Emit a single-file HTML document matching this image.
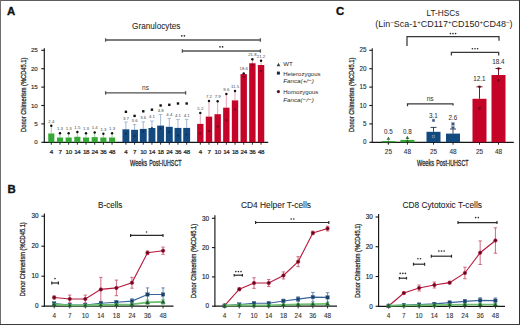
<!DOCTYPE html>
<html><head><meta charset="utf-8"><style>
html,body{margin:0;padding:0;background:#fff;}
body{width:520px;height:325px;overflow:hidden;}
svg{display:block;font-family:"Liberation Sans", sans-serif;}
</style></head><body>
<svg width="520" height="325" viewBox="0 0 520 325" font-family='"Liberation Sans", sans-serif'>
<rect x="0" y="0" width="520" height="325" fill="#fff"/>
<text x="7.00" y="14.80" font-size="11.4" text-anchor="start" fill="#111" font-weight="bold" stroke="#111" stroke-width="0.35" >A</text>
<text x="156.20" y="28.60" font-size="9.4" text-anchor="middle" fill="#2a2a2a" textLength="48.2" lengthAdjust="spacingAndGlyphs" stroke="#2a2a2a" stroke-width="0.08" >Granulocytes</text>
<line x1="44.30" y1="48.20" x2="44.30" y2="142.90" stroke="#151515" stroke-width="1.15"/>
<line x1="41.30" y1="142.30" x2="44.30" y2="142.30" stroke="#151515" stroke-width="1.1"/>
<text x="37.80" y="144.45" font-size="6.2" text-anchor="end" fill="#2a2a2a" stroke="#2a2a2a" stroke-width="0.12" >0</text>
<line x1="41.30" y1="123.90" x2="44.30" y2="123.90" stroke="#151515" stroke-width="1.1"/>
<text x="37.80" y="126.05" font-size="6.2" text-anchor="end" fill="#2a2a2a" stroke="#2a2a2a" stroke-width="0.12" >5</text>
<line x1="41.30" y1="105.50" x2="44.30" y2="105.50" stroke="#151515" stroke-width="1.1"/>
<text x="37.80" y="107.65" font-size="6.2" text-anchor="end" fill="#2a2a2a" stroke="#2a2a2a" stroke-width="0.12" >10</text>
<line x1="41.30" y1="87.10" x2="44.30" y2="87.10" stroke="#151515" stroke-width="1.1"/>
<text x="37.80" y="89.25" font-size="6.2" text-anchor="end" fill="#2a2a2a" stroke="#2a2a2a" stroke-width="0.12" >15</text>
<line x1="41.30" y1="68.70" x2="44.30" y2="68.70" stroke="#151515" stroke-width="1.1"/>
<text x="37.80" y="70.85" font-size="6.2" text-anchor="end" fill="#2a2a2a" stroke="#2a2a2a" stroke-width="0.12" >20</text>
<line x1="41.30" y1="50.30" x2="44.30" y2="50.30" stroke="#151515" stroke-width="1.1"/>
<text x="37.80" y="52.45" font-size="6.2" text-anchor="end" fill="#2a2a2a" stroke="#2a2a2a" stroke-width="0.12" >25</text>
<text transform="translate(25.50,94.80) rotate(-90)" x="0" y="0" font-size="7.9" text-anchor="middle" fill="#2a2a2a" stroke="#2a2a2a" stroke-width="0.3" textLength="74.2" lengthAdjust="spacingAndGlyphs">Donor Chimerism (%CD45.1)</text>
<line x1="43.70" y1="142.30" x2="268.20" y2="142.30" stroke="#151515" stroke-width="1.15"/>
<line x1="51.30" y1="125.70" x2="51.30" y2="133.47" stroke="#8fd08f" stroke-width="0.9"/>
<rect x="48.25" y="133.47" width="6.10" height="8.83" fill="#36a836" />
<circle cx="51.30" cy="125.70" r="1.2" fill="#111"/>
<line x1="51.30" y1="142.30" x2="51.30" y2="144.70" stroke="#151515" stroke-width="0.9"/>
<text x="51.30" y="154.00" font-size="6.2" text-anchor="middle" fill="#222" stroke="#222" stroke-width="0.22" letter-spacing="-0.35">4</text>
<text x="51.30" y="122.50" font-size="4.3" text-anchor="middle" fill="#444" >2.4</text>
<line x1="59.98" y1="133.30" x2="59.98" y2="137.52" stroke="#8fd08f" stroke-width="0.9"/>
<rect x="56.93" y="137.52" width="6.10" height="4.78" fill="#36a836" />
<circle cx="59.98" cy="133.30" r="1.2" fill="#111"/>
<line x1="59.98" y1="142.30" x2="59.98" y2="144.70" stroke="#151515" stroke-width="0.9"/>
<text x="59.98" y="154.00" font-size="6.2" text-anchor="middle" fill="#222" stroke="#222" stroke-width="0.22" letter-spacing="-0.35">7</text>
<text x="59.98" y="130.10" font-size="4.3" text-anchor="middle" fill="#444" >1.3</text>
<line x1="68.66" y1="133.30" x2="68.66" y2="137.52" stroke="#8fd08f" stroke-width="0.9"/>
<rect x="65.61" y="137.52" width="6.10" height="4.78" fill="#36a836" />
<circle cx="68.66" cy="133.30" r="1.2" fill="#111"/>
<line x1="68.66" y1="142.30" x2="68.66" y2="144.70" stroke="#151515" stroke-width="0.9"/>
<text x="68.66" y="154.00" font-size="6.2" text-anchor="middle" fill="#222" stroke="#222" stroke-width="0.22" letter-spacing="-0.35">10</text>
<text x="68.66" y="130.10" font-size="4.3" text-anchor="middle" fill="#444" >1.3</text>
<line x1="77.34" y1="132.00" x2="77.34" y2="136.78" stroke="#8fd08f" stroke-width="0.9"/>
<rect x="74.29" y="136.78" width="6.10" height="5.52" fill="#36a836" />
<circle cx="77.34" cy="132.00" r="1.2" fill="#111"/>
<line x1="77.34" y1="142.30" x2="77.34" y2="144.70" stroke="#151515" stroke-width="0.9"/>
<text x="77.34" y="154.00" font-size="6.2" text-anchor="middle" fill="#222" stroke="#222" stroke-width="0.22" letter-spacing="-0.35">14</text>
<text x="77.34" y="128.80" font-size="4.3" text-anchor="middle" fill="#444" >1.5</text>
<line x1="86.02" y1="133.30" x2="86.02" y2="137.52" stroke="#8fd08f" stroke-width="0.9"/>
<rect x="82.97" y="137.52" width="6.10" height="4.78" fill="#36a836" />
<circle cx="86.02" cy="133.30" r="1.2" fill="#111"/>
<line x1="86.02" y1="142.30" x2="86.02" y2="144.70" stroke="#151515" stroke-width="0.9"/>
<text x="86.02" y="154.00" font-size="6.2" text-anchor="middle" fill="#222" stroke="#222" stroke-width="0.22" letter-spacing="-0.35">18</text>
<text x="86.02" y="130.10" font-size="4.3" text-anchor="middle" fill="#444" >1.3</text>
<line x1="94.70" y1="132.50" x2="94.70" y2="137.15" stroke="#8fd08f" stroke-width="0.9"/>
<rect x="91.65" y="137.15" width="6.10" height="5.15" fill="#36a836" />
<circle cx="94.70" cy="132.50" r="1.2" fill="#111"/>
<line x1="94.70" y1="142.30" x2="94.70" y2="144.70" stroke="#151515" stroke-width="0.9"/>
<text x="94.70" y="154.00" font-size="6.2" text-anchor="middle" fill="#222" stroke="#222" stroke-width="0.22" letter-spacing="-0.35">24</text>
<text x="94.70" y="129.30" font-size="4.3" text-anchor="middle" fill="#444" >1.4</text>
<line x1="103.38" y1="133.70" x2="103.38" y2="137.52" stroke="#8fd08f" stroke-width="0.9"/>
<rect x="100.33" y="137.52" width="6.10" height="4.78" fill="#36a836" />
<circle cx="103.38" cy="133.70" r="1.2" fill="#111"/>
<line x1="103.38" y1="142.30" x2="103.38" y2="144.70" stroke="#151515" stroke-width="0.9"/>
<text x="103.38" y="154.00" font-size="6.2" text-anchor="middle" fill="#222" stroke="#222" stroke-width="0.22" letter-spacing="-0.35">36</text>
<text x="103.38" y="130.50" font-size="4.3" text-anchor="middle" fill="#444" >1.3</text>
<line x1="112.06" y1="133.30" x2="112.06" y2="137.52" stroke="#8fd08f" stroke-width="0.9"/>
<rect x="109.01" y="137.52" width="6.10" height="4.78" fill="#36a836" />
<circle cx="112.06" cy="133.30" r="1.2" fill="#111"/>
<line x1="112.06" y1="142.30" x2="112.06" y2="144.70" stroke="#151515" stroke-width="0.9"/>
<text x="112.06" y="154.00" font-size="6.2" text-anchor="middle" fill="#222" stroke="#222" stroke-width="0.22" letter-spacing="-0.35">48</text>
<text x="112.06" y="130.10" font-size="4.3" text-anchor="middle" fill="#444" >1.3</text>
<line x1="125.90" y1="122.10" x2="125.90" y2="129.31" stroke="#9ab0cc" stroke-width="0.9"/>
<line x1="124.20" y1="122.10" x2="127.60" y2="122.10" stroke="#9ab0cc" stroke-width="0.9"/>
<rect x="122.45" y="129.31" width="6.90" height="12.99" fill="#124a80" />
<rect x="124.70" y="110.60" width="2.40" height="2.40" fill="#111" />
<line x1="125.90" y1="142.30" x2="125.90" y2="144.70" stroke="#151515" stroke-width="0.9"/>
<text x="125.90" y="154.00" font-size="6.2" text-anchor="middle" fill="#222" stroke="#222" stroke-width="0.22" letter-spacing="-0.35">4</text>
<text x="125.90" y="119.50" font-size="4.3" text-anchor="middle" fill="#444" >3.7</text>
<circle cx="125.90" cy="133.50" r="0.9" fill="#0a2a50"/>
<line x1="134.58" y1="124.60" x2="134.58" y2="129.79" stroke="#9ab0cc" stroke-width="0.9"/>
<line x1="132.88" y1="124.60" x2="136.28" y2="124.60" stroke="#9ab0cc" stroke-width="0.9"/>
<rect x="131.13" y="129.79" width="6.90" height="12.51" fill="#124a80" />
<rect x="133.38" y="114.70" width="2.40" height="2.40" fill="#111" />
<line x1="134.58" y1="142.30" x2="134.58" y2="144.70" stroke="#151515" stroke-width="0.9"/>
<text x="134.58" y="154.00" font-size="6.2" text-anchor="middle" fill="#222" stroke="#222" stroke-width="0.22" letter-spacing="-0.35">7</text>
<text x="134.58" y="122.00" font-size="4.3" text-anchor="middle" fill="#444" >3.6</text>
<circle cx="134.58" cy="136.00" r="0.9" fill="#0a2a50"/>
<line x1="143.26" y1="121.90" x2="143.26" y2="128.90" stroke="#9ab0cc" stroke-width="0.9"/>
<line x1="141.56" y1="121.90" x2="144.96" y2="121.90" stroke="#9ab0cc" stroke-width="0.9"/>
<rect x="139.81" y="128.90" width="6.90" height="13.40" fill="#124a80" />
<rect x="142.06" y="110.10" width="2.40" height="2.40" fill="#111" />
<line x1="143.26" y1="142.30" x2="143.26" y2="144.70" stroke="#151515" stroke-width="0.9"/>
<text x="143.26" y="154.00" font-size="6.2" text-anchor="middle" fill="#222" stroke="#222" stroke-width="0.22" letter-spacing="-0.35">10</text>
<text x="143.26" y="119.20" font-size="4.3" text-anchor="middle" fill="#444" >3.6</text>
<circle cx="143.26" cy="131.50" r="0.9" fill="#0a2a50"/>
<line x1="151.94" y1="121.00" x2="151.94" y2="128.02" stroke="#9ab0cc" stroke-width="0.9"/>
<line x1="150.24" y1="121.00" x2="153.64" y2="121.00" stroke="#9ab0cc" stroke-width="0.9"/>
<rect x="148.49" y="128.02" width="6.90" height="14.28" fill="#124a80" />
<rect x="150.74" y="108.50" width="2.40" height="2.40" fill="#111" />
<line x1="151.94" y1="142.30" x2="151.94" y2="144.70" stroke="#151515" stroke-width="0.9"/>
<text x="151.94" y="154.00" font-size="6.2" text-anchor="middle" fill="#222" stroke="#222" stroke-width="0.22" letter-spacing="-0.35">14</text>
<text x="151.94" y="118.40" font-size="4.3" text-anchor="middle" fill="#444" >4.1</text>
<circle cx="151.94" cy="128.00" r="0.9" fill="#0a2a50"/>
<line x1="160.62" y1="114.50" x2="160.62" y2="125.59" stroke="#9ab0cc" stroke-width="0.9"/>
<line x1="158.92" y1="114.50" x2="162.32" y2="114.50" stroke="#9ab0cc" stroke-width="0.9"/>
<rect x="157.17" y="125.59" width="6.90" height="16.71" fill="#124a80" />
<rect x="159.42" y="104.30" width="2.40" height="2.40" fill="#111" />
<line x1="160.62" y1="142.30" x2="160.62" y2="144.70" stroke="#151515" stroke-width="0.9"/>
<text x="160.62" y="154.00" font-size="6.2" text-anchor="middle" fill="#222" stroke="#222" stroke-width="0.22" letter-spacing="-0.35">18</text>
<text x="160.62" y="111.90" font-size="4.3" text-anchor="middle" fill="#444" >4.8</text>
<circle cx="160.62" cy="128.50" r="0.9" fill="#0a2a50"/>
<line x1="169.30" y1="118.40" x2="169.30" y2="126.81" stroke="#9ab0cc" stroke-width="0.9"/>
<line x1="167.60" y1="118.40" x2="171.00" y2="118.40" stroke="#9ab0cc" stroke-width="0.9"/>
<rect x="165.85" y="126.81" width="6.90" height="15.49" fill="#124a80" />
<rect x="168.10" y="103.60" width="2.40" height="2.40" fill="#111" />
<line x1="169.30" y1="142.30" x2="169.30" y2="144.70" stroke="#151515" stroke-width="0.9"/>
<text x="169.30" y="154.00" font-size="6.2" text-anchor="middle" fill="#222" stroke="#222" stroke-width="0.22" letter-spacing="-0.35">24</text>
<text x="169.30" y="116.00" font-size="4.3" text-anchor="middle" fill="#444" >4.4</text>
<circle cx="169.30" cy="132.00" r="0.9" fill="#0a2a50"/>
<line x1="177.98" y1="119.40" x2="177.98" y2="127.91" stroke="#9ab0cc" stroke-width="0.9"/>
<line x1="176.28" y1="119.40" x2="179.68" y2="119.40" stroke="#9ab0cc" stroke-width="0.9"/>
<rect x="174.53" y="127.91" width="6.90" height="14.39" fill="#124a80" />
<rect x="176.78" y="102.30" width="2.40" height="2.40" fill="#111" />
<line x1="177.98" y1="142.30" x2="177.98" y2="144.70" stroke="#151515" stroke-width="0.9"/>
<text x="177.98" y="154.00" font-size="6.2" text-anchor="middle" fill="#222" stroke="#222" stroke-width="0.22" letter-spacing="-0.35">36</text>
<text x="177.98" y="116.70" font-size="4.3" text-anchor="middle" fill="#444" >4.1</text>
<circle cx="177.98" cy="135.50" r="0.9" fill="#0a2a50"/>
<line x1="186.66" y1="119.40" x2="186.66" y2="127.91" stroke="#9ab0cc" stroke-width="0.9"/>
<line x1="184.96" y1="119.40" x2="188.36" y2="119.40" stroke="#9ab0cc" stroke-width="0.9"/>
<rect x="183.21" y="127.91" width="6.90" height="14.39" fill="#124a80" />
<rect x="185.46" y="102.30" width="2.40" height="2.40" fill="#111" />
<line x1="186.66" y1="142.30" x2="186.66" y2="144.70" stroke="#151515" stroke-width="0.9"/>
<text x="186.66" y="154.00" font-size="6.2" text-anchor="middle" fill="#222" stroke="#222" stroke-width="0.22" letter-spacing="-0.35">48</text>
<text x="186.66" y="116.70" font-size="4.3" text-anchor="middle" fill="#444" >4.1</text>
<circle cx="186.66" cy="134.50" r="0.9" fill="#0a2a50"/>
<line x1="200.30" y1="112.90" x2="200.30" y2="123.90" stroke="#e39aac" stroke-width="0.9"/>
<rect x="197.10" y="123.90" width="6.40" height="18.40" fill="#c50329" />
<circle cx="200.30" cy="112.90" r="1.2" fill="#111"/>
<line x1="200.30" y1="142.30" x2="200.30" y2="144.70" stroke="#151515" stroke-width="0.9"/>
<text x="200.30" y="154.00" font-size="6.2" text-anchor="middle" fill="#222" stroke="#222" stroke-width="0.22" letter-spacing="-0.35">4</text>
<text x="200.30" y="109.70" font-size="4.3" text-anchor="middle" fill="#444" >5.2</text>
<circle cx="200.30" cy="133.30" r="1.2" fill="#7a0a1e"/>
<line x1="208.98" y1="101.00" x2="208.98" y2="116.60" stroke="#e39aac" stroke-width="0.9"/>
<rect x="205.78" y="116.60" width="6.40" height="25.70" fill="#c50329" />
<circle cx="208.98" cy="101.00" r="1.2" fill="#111"/>
<line x1="208.98" y1="142.30" x2="208.98" y2="144.70" stroke="#151515" stroke-width="0.9"/>
<text x="208.98" y="154.00" font-size="6.2" text-anchor="middle" fill="#222" stroke="#222" stroke-width="0.22" letter-spacing="-0.35">7</text>
<text x="208.98" y="97.80" font-size="4.3" text-anchor="middle" fill="#444" >7.2</text>
<circle cx="208.98" cy="131.00" r="1.2" fill="#7a0a1e"/>
<line x1="217.66" y1="101.20" x2="217.66" y2="114.20" stroke="#e39aac" stroke-width="0.9"/>
<rect x="214.46" y="114.20" width="6.40" height="28.10" fill="#c50329" />
<circle cx="217.66" cy="101.20" r="1.2" fill="#111"/>
<line x1="217.66" y1="142.30" x2="217.66" y2="144.70" stroke="#151515" stroke-width="0.9"/>
<text x="217.66" y="154.00" font-size="6.2" text-anchor="middle" fill="#222" stroke="#222" stroke-width="0.22" letter-spacing="-0.35">10</text>
<text x="217.66" y="98.00" font-size="4.3" text-anchor="middle" fill="#444" >7.9</text>
<circle cx="217.66" cy="126.60" r="1.2" fill="#7a0a1e"/>
<line x1="226.34" y1="94.00" x2="226.34" y2="107.70" stroke="#e39aac" stroke-width="0.9"/>
<rect x="223.14" y="107.70" width="6.40" height="34.60" fill="#c50329" />
<circle cx="226.34" cy="94.00" r="1.2" fill="#111"/>
<line x1="226.34" y1="142.30" x2="226.34" y2="144.70" stroke="#151515" stroke-width="0.9"/>
<text x="226.34" y="154.00" font-size="6.2" text-anchor="middle" fill="#222" stroke="#222" stroke-width="0.22" letter-spacing="-0.35">14</text>
<text x="226.34" y="90.80" font-size="4.3" text-anchor="middle" fill="#444" >9.6</text>
<circle cx="226.34" cy="120.20" r="1.2" fill="#7a0a1e"/>
<line x1="235.02" y1="91.00" x2="235.02" y2="100.40" stroke="#e39aac" stroke-width="0.9"/>
<rect x="231.82" y="100.40" width="6.40" height="41.90" fill="#c50329" />
<circle cx="235.02" cy="91.00" r="1.2" fill="#111"/>
<line x1="235.02" y1="142.30" x2="235.02" y2="144.70" stroke="#151515" stroke-width="0.9"/>
<text x="235.02" y="154.00" font-size="6.2" text-anchor="middle" fill="#222" stroke="#222" stroke-width="0.22" letter-spacing="-0.35">18</text>
<text x="235.02" y="87.80" font-size="4.3" text-anchor="middle" fill="#444" >11.5</text>
<circle cx="235.02" cy="109.40" r="1.2" fill="#7a0a1e"/>
<line x1="243.70" y1="73.50" x2="243.70" y2="74.10" stroke="#e39aac" stroke-width="0.9"/>
<rect x="240.50" y="74.10" width="6.40" height="68.20" fill="#c50329" />
<circle cx="243.70" cy="73.50" r="1.2" fill="#111"/>
<line x1="243.70" y1="142.30" x2="243.70" y2="144.70" stroke="#151515" stroke-width="0.9"/>
<text x="243.70" y="154.00" font-size="6.2" text-anchor="middle" fill="#222" stroke="#222" stroke-width="0.22" letter-spacing="-0.35">24</text>
<text x="243.70" y="70.30" font-size="4.3" text-anchor="middle" fill="#444" >18.6</text>
<circle cx="243.70" cy="76.90" r="1.2" fill="#7a0a1e"/>
<line x1="252.38" y1="59.30" x2="252.38" y2="63.30" stroke="#e39aac" stroke-width="0.9"/>
<rect x="249.18" y="63.30" width="6.40" height="79.00" fill="#c50329" />
<circle cx="252.38" cy="59.30" r="1.2" fill="#111"/>
<line x1="252.38" y1="142.30" x2="252.38" y2="144.70" stroke="#151515" stroke-width="0.9"/>
<text x="252.38" y="154.00" font-size="6.2" text-anchor="middle" fill="#222" stroke="#222" stroke-width="0.22" letter-spacing="-0.35">36</text>
<text x="252.38" y="56.10" font-size="4.3" text-anchor="middle" fill="#444" >21.8</text>
<circle cx="252.38" cy="64.60" r="1.2" fill="#7a0a1e"/>
<line x1="261.06" y1="60.80" x2="261.06" y2="65.00" stroke="#e39aac" stroke-width="0.9"/>
<rect x="257.86" y="65.00" width="6.40" height="77.30" fill="#c50329" />
<circle cx="261.06" cy="60.80" r="1.2" fill="#111"/>
<line x1="261.06" y1="142.30" x2="261.06" y2="144.70" stroke="#151515" stroke-width="0.9"/>
<text x="261.06" y="154.00" font-size="6.2" text-anchor="middle" fill="#222" stroke="#222" stroke-width="0.22" letter-spacing="-0.35">48</text>
<text x="261.06" y="57.60" font-size="4.3" text-anchor="middle" fill="#444" >21.2</text>
<circle cx="261.06" cy="71.00" r="1.2" fill="#7a0a1e"/>
<text x="130.00" y="165.90" font-size="8.8" text-anchor="start" fill="#2a2a2a" textLength="17.0" lengthAdjust="spacingAndGlyphs" stroke="#2a2a2a" stroke-width="0.32" >Weeks</text>
<text x="149.30" y="165.90" font-size="8.8" text-anchor="start" fill="#2a2a2a" textLength="32.2" lengthAdjust="spacingAndGlyphs" stroke="#2a2a2a" stroke-width="0.32" >Post-IUHSCT</text>
<line x1="105.60" y1="40.00" x2="260.40" y2="40.00" stroke="#505050" stroke-width="1.3"/>
<line x1="105.60" y1="38.30" x2="105.60" y2="41.70" stroke="#505050" stroke-width="1.3"/>
<line x1="260.40" y1="38.30" x2="260.40" y2="41.70" stroke="#505050" stroke-width="1.3"/>
<circle cx="181.80" cy="35.80" r="0.85" fill="#2a2a2a"/>
<circle cx="184.40" cy="35.80" r="0.85" fill="#2a2a2a"/>
<line x1="182.40" y1="51.00" x2="260.40" y2="51.00" stroke="#505050" stroke-width="1.3"/>
<line x1="182.40" y1="49.30" x2="182.40" y2="52.70" stroke="#505050" stroke-width="1.3"/>
<line x1="260.40" y1="49.30" x2="260.40" y2="52.70" stroke="#505050" stroke-width="1.3"/>
<circle cx="220.00" cy="46.80" r="0.85" fill="#2a2a2a"/>
<circle cx="222.60" cy="46.80" r="0.85" fill="#2a2a2a"/>
<line x1="105.60" y1="92.90" x2="185.60" y2="92.90" stroke="#505050" stroke-width="1.3"/>
<line x1="105.60" y1="91.20" x2="105.60" y2="94.60" stroke="#505050" stroke-width="1.3"/>
<line x1="185.60" y1="91.20" x2="185.60" y2="94.60" stroke="#505050" stroke-width="1.3"/>
<text x="145.50" y="89.66" font-size="6.5" text-anchor="middle" fill="#333" >ns</text>
<path d="M276.6,66.3 L278.5,62.7 L280.4,66.3 Z" fill="#2d4a35"/>
<text x="283.20" y="66.20" font-size="6.1" text-anchor="start" fill="#2a2a2a" >WT</text>
<rect x="276.90" y="71.60" width="3.00" height="3.00" fill="#1a2a45" />
<text x="283.20" y="75.60" font-size="6.1" text-anchor="start" fill="#2a2a2a" textLength="37.4" lengthAdjust="spacingAndGlyphs" >Heterozygous</text>
<text x="283.20" y="83.40" font-size="6.1" text-anchor="start" fill="#2a2a2a" font-style="italic" textLength="30.6" lengthAdjust="spacingAndGlyphs" >Fanca(+/−)</text>
<circle cx="278.40" cy="91.60" r="1.55" fill="#4a1020"/>
<text x="283.20" y="93.90" font-size="6.1" text-anchor="start" fill="#2a2a2a" textLength="35.2" lengthAdjust="spacingAndGlyphs" >Homozygous</text>
<text x="283.20" y="101.80" font-size="6.1" text-anchor="start" fill="#2a2a2a" font-style="italic" textLength="30.6" lengthAdjust="spacingAndGlyphs" >Fanca(−/−)</text>
<text x="336.00" y="14.80" font-size="11.4" text-anchor="start" fill="#111" font-weight="bold" stroke="#111" stroke-width="0.35" >C</text>
<text x="443.00" y="15.60" font-size="8.2" text-anchor="middle" fill="#222" textLength="33.0" lengthAdjust="spacingAndGlyphs" >LT-HSCs</text>
<text x="443.90" y="27.10" font-size="8.2" text-anchor="middle" fill="#222" textLength="137.2" lengthAdjust="spacingAndGlyphs" >(Lin<tspan font-size="5.6" dy="-3.2">−</tspan><tspan dy="3.2">Sca-1</tspan><tspan font-size="5.6" dy="-3.2">+</tspan><tspan dy="3.2">CD117</tspan><tspan font-size="5.6" dy="-3.2">+</tspan><tspan dy="3.2">CD150</tspan><tspan font-size="5.6" dy="-3.2">+</tspan><tspan dy="3.2">CD48</tspan><tspan font-size="5.6" dy="-3.2">−</tspan><tspan dy="3.2">)</tspan></text>
<line x1="372.30" y1="48.20" x2="372.30" y2="142.90" stroke="#333" stroke-width="1.15"/>
<line x1="369.30" y1="142.30" x2="372.30" y2="142.30" stroke="#151515" stroke-width="1.1"/>
<text x="366.40" y="144.45" font-size="6.3" text-anchor="end" fill="#2a2a2a" stroke="#2a2a2a" stroke-width="0.12" >0</text>
<line x1="369.30" y1="123.90" x2="372.30" y2="123.90" stroke="#151515" stroke-width="1.1"/>
<text x="366.40" y="126.05" font-size="6.3" text-anchor="end" fill="#2a2a2a" stroke="#2a2a2a" stroke-width="0.12" >5</text>
<line x1="369.30" y1="105.50" x2="372.30" y2="105.50" stroke="#151515" stroke-width="1.1"/>
<text x="366.40" y="107.65" font-size="6.3" text-anchor="end" fill="#2a2a2a" stroke="#2a2a2a" stroke-width="0.12" >10</text>
<line x1="369.30" y1="87.10" x2="372.30" y2="87.10" stroke="#151515" stroke-width="1.1"/>
<text x="366.40" y="89.25" font-size="6.3" text-anchor="end" fill="#2a2a2a" stroke="#2a2a2a" stroke-width="0.12" >15</text>
<line x1="369.30" y1="68.70" x2="372.30" y2="68.70" stroke="#151515" stroke-width="1.1"/>
<text x="366.40" y="70.85" font-size="6.3" text-anchor="end" fill="#2a2a2a" stroke="#2a2a2a" stroke-width="0.12" >20</text>
<line x1="369.30" y1="50.30" x2="372.30" y2="50.30" stroke="#151515" stroke-width="1.1"/>
<text x="366.40" y="52.45" font-size="6.3" text-anchor="end" fill="#2a2a2a" stroke="#2a2a2a" stroke-width="0.12" >25</text>
<text transform="translate(353.60,94.80) rotate(-90)" x="0" y="0" font-size="7.9" text-anchor="middle" fill="#2a2a2a" stroke="#2a2a2a" stroke-width="0.3" textLength="74.2" lengthAdjust="spacingAndGlyphs">Donor Chimerism (%CD45.1)</text>
<line x1="371.70" y1="142.30" x2="513.80" y2="142.30" stroke="#151515" stroke-width="1.15"/>
<rect x="381.40" y="141.00" width="14.00" height="1.30" fill="#36a836" />
<path d="M386.60,139.80 L388.40,136.70 L390.20,139.80 Z" fill="#2a6a2a"/>
<path d="M386.60,143.30 L388.40,140.20 L390.20,143.30 Z" fill="#2a6a2a"/>
<line x1="388.40" y1="142.30" x2="388.40" y2="144.70" stroke="#151515" stroke-width="0.9"/>
<text x="388.40" y="154.20" font-size="6.4" text-anchor="middle" fill="#333" stroke="#333" stroke-width="0.1" >25</text>
<text x="388.40" y="134.00" font-size="6.3" text-anchor="middle" fill="#333" stroke="#333" stroke-width="0.05" >0.5</text>
<rect x="400.40" y="139.90" width="14.00" height="2.40" fill="#36a836" />
<path d="M405.60,138.90 L407.40,135.80 L409.20,138.90 Z" fill="#2a6a2a"/>
<path d="M405.60,142.30 L407.40,139.20 L409.20,142.30 Z" fill="#2a6a2a"/>
<line x1="407.40" y1="142.30" x2="407.40" y2="144.70" stroke="#151515" stroke-width="0.9"/>
<text x="407.40" y="154.20" font-size="6.4" text-anchor="middle" fill="#333" stroke="#333" stroke-width="0.1" >48</text>
<text x="407.40" y="134.00" font-size="6.3" text-anchor="middle" fill="#333" stroke="#333" stroke-width="0.05" >0.8</text>
<rect x="426.50" y="131.80" width="14.00" height="10.50" fill="#124a80" />
<line x1="433.50" y1="127.40" x2="433.50" y2="131.80" stroke="#1c2f4a" stroke-width="0.9"/>
<line x1="430.50" y1="127.40" x2="436.50" y2="127.40" stroke="#1c2f4a" stroke-width="0.9"/>
<rect x="432.20" y="119.10" width="2.60" height="2.60" fill="#3d5575" stroke="#8096b4" stroke-width="0.5"/>
<rect x="432.20" y="135.20" width="2.60" height="2.60" fill="#3d5575" stroke="#8096b4" stroke-width="0.5"/>
<line x1="433.50" y1="142.30" x2="433.50" y2="144.70" stroke="#151515" stroke-width="0.9"/>
<text x="433.50" y="154.20" font-size="6.4" text-anchor="middle" fill="#333" stroke="#333" stroke-width="0.1" >25</text>
<text x="433.50" y="117.70" font-size="6.3" text-anchor="middle" fill="#333" stroke="#333" stroke-width="0.05" >3.1</text>
<rect x="446.00" y="133.60" width="14.00" height="8.70" fill="#124a80" />
<line x1="453.00" y1="129.00" x2="453.00" y2="133.60" stroke="#1c2f4a" stroke-width="0.9"/>
<line x1="450.00" y1="129.00" x2="456.00" y2="129.00" stroke="#1c2f4a" stroke-width="0.9"/>
<rect x="451.70" y="122.70" width="2.60" height="2.60" fill="#3d5575" stroke="#8096b4" stroke-width="0.5"/>
<rect x="451.70" y="126.50" width="2.60" height="2.60" fill="#3d5575" stroke="#8096b4" stroke-width="0.5"/>
<line x1="453.00" y1="142.30" x2="453.00" y2="144.70" stroke="#151515" stroke-width="0.9"/>
<text x="453.00" y="154.20" font-size="6.4" text-anchor="middle" fill="#333" stroke="#333" stroke-width="0.1" >48</text>
<text x="453.00" y="120.20" font-size="6.3" text-anchor="middle" fill="#333" stroke="#333" stroke-width="0.05" >2.6</text>
<rect x="472.50" y="98.80" width="14.00" height="43.50" fill="#c50329" />
<line x1="479.50" y1="86.80" x2="479.50" y2="98.80" stroke="#5a0818" stroke-width="0.9"/>
<line x1="476.50" y1="86.80" x2="482.50" y2="86.80" stroke="#5a0818" stroke-width="0.9"/>
<circle cx="479.50" cy="86.80" r="1.3" fill="#6a0a1e"/>
<circle cx="479.50" cy="108.40" r="1.3" fill="#6a0a1e"/>
<line x1="479.50" y1="142.30" x2="479.50" y2="144.70" stroke="#151515" stroke-width="0.9"/>
<text x="479.50" y="154.20" font-size="6.4" text-anchor="middle" fill="#333" stroke="#333" stroke-width="0.1" >25</text>
<text x="479.50" y="81.40" font-size="6.3" text-anchor="middle" fill="#333" stroke="#333" stroke-width="0.05" >12.1</text>
<rect x="491.50" y="75.00" width="14.00" height="67.30" fill="#c50329" />
<line x1="498.50" y1="68.50" x2="498.50" y2="75.00" stroke="#5a0818" stroke-width="0.9"/>
<line x1="495.50" y1="68.50" x2="501.50" y2="68.50" stroke="#5a0818" stroke-width="0.9"/>
<circle cx="498.50" cy="68.50" r="1.3" fill="#6a0a1e"/>
<circle cx="498.50" cy="80.40" r="1.3" fill="#6a0a1e"/>
<line x1="498.50" y1="142.30" x2="498.50" y2="144.70" stroke="#151515" stroke-width="0.9"/>
<text x="498.50" y="154.20" font-size="6.4" text-anchor="middle" fill="#333" stroke="#333" stroke-width="0.1" >48</text>
<text x="498.50" y="63.70" font-size="6.3" text-anchor="middle" fill="#333" stroke="#333" stroke-width="0.05" >18.4</text>
<text x="417.00" y="165.90" font-size="8.8" text-anchor="start" fill="#2a2a2a" textLength="17.0" lengthAdjust="spacingAndGlyphs" stroke="#2a2a2a" stroke-width="0.32" >Weeks</text>
<text x="436.30" y="165.90" font-size="8.8" text-anchor="start" fill="#2a2a2a" textLength="32.2" lengthAdjust="spacingAndGlyphs" stroke="#2a2a2a" stroke-width="0.32" >Post-IUHSCT</text>
<polyline points="407.0,46.1 407.0,36.6 499.0,36.6 499.0,40.8" fill="none" stroke="#383838" stroke-width="1.25"/>
<circle cx="450.40" cy="33.60" r="0.82" fill="#2a2a2a"/>
<circle cx="453.00" cy="33.60" r="0.82" fill="#2a2a2a"/>
<circle cx="455.60" cy="33.60" r="0.82" fill="#2a2a2a"/>
<polyline points="451.4,55.6 451.4,52.4 498.7,52.4 498.7,55.6" fill="none" stroke="#383838" stroke-width="1.25"/>
<circle cx="472.40" cy="48.80" r="0.82" fill="#2a2a2a"/>
<circle cx="475.00" cy="48.80" r="0.82" fill="#2a2a2a"/>
<circle cx="477.60" cy="48.80" r="0.82" fill="#2a2a2a"/>
<polyline points="407.5,106.3 407.5,103.8 453.0,103.8 453.0,105.4" fill="none" stroke="#383838" stroke-width="1.25"/>
<text x="430.20" y="100.98" font-size="6.6" text-anchor="middle" fill="#333" >ns</text>
<text x="7.50" y="193.00" font-size="11.4" text-anchor="start" fill="#111" font-weight="bold" stroke="#111" stroke-width="0.35" >B</text>
<text x="110.20" y="207.50" font-size="9.2" text-anchor="middle" fill="#222" textLength="24.4" lengthAdjust="spacingAndGlyphs" stroke="#222" stroke-width="0.08" >B-cells</text>
<line x1="44.40" y1="213.40" x2="44.40" y2="306.80" stroke="#151515" stroke-width="1.15"/>
<line x1="41.40" y1="306.20" x2="44.40" y2="306.20" stroke="#151515" stroke-width="1.1"/>
<text x="38.60" y="308.45" font-size="6.4" text-anchor="end" fill="#222" stroke="#222" stroke-width="0.15" >0</text>
<line x1="41.40" y1="276.20" x2="44.40" y2="276.20" stroke="#151515" stroke-width="1.1"/>
<text x="38.60" y="278.45" font-size="6.4" text-anchor="end" fill="#222" stroke="#222" stroke-width="0.15" >10</text>
<line x1="41.40" y1="246.20" x2="44.40" y2="246.20" stroke="#151515" stroke-width="1.1"/>
<text x="38.60" y="248.45" font-size="6.4" text-anchor="end" fill="#222" stroke="#222" stroke-width="0.15" >20</text>
<line x1="41.40" y1="216.20" x2="44.40" y2="216.20" stroke="#151515" stroke-width="1.1"/>
<text x="38.60" y="218.45" font-size="6.4" text-anchor="end" fill="#222" stroke="#222" stroke-width="0.15" >30</text>
<text transform="translate(25.20,259.30) rotate(-90)" x="0" y="0" font-size="7.9" text-anchor="middle" fill="#2a2a2a" stroke="#2a2a2a" stroke-width="0.3" textLength="74" lengthAdjust="spacingAndGlyphs">Donor Chimerism (%CD45.1)</text>
<line x1="43.80" y1="306.20" x2="173.50" y2="306.20" stroke="#151515" stroke-width="1.3"/>
<line x1="54.20" y1="306.20" x2="54.20" y2="308.40" stroke="#151515" stroke-width="0.9"/>
<text x="54.20" y="318.40" font-size="6.4" text-anchor="middle" fill="#333" stroke="#333" stroke-width="0.1" >4</text>
<line x1="69.75" y1="306.20" x2="69.75" y2="308.40" stroke="#151515" stroke-width="0.9"/>
<text x="69.75" y="318.40" font-size="6.4" text-anchor="middle" fill="#333" stroke="#333" stroke-width="0.1" >7</text>
<line x1="85.30" y1="306.20" x2="85.30" y2="308.40" stroke="#151515" stroke-width="0.9"/>
<text x="85.30" y="318.40" font-size="6.4" text-anchor="middle" fill="#333" stroke="#333" stroke-width="0.1" >10</text>
<line x1="100.85" y1="306.20" x2="100.85" y2="308.40" stroke="#151515" stroke-width="0.9"/>
<text x="100.85" y="318.40" font-size="6.4" text-anchor="middle" fill="#333" stroke="#333" stroke-width="0.1" >14</text>
<line x1="116.40" y1="306.20" x2="116.40" y2="308.40" stroke="#151515" stroke-width="0.9"/>
<text x="116.40" y="318.40" font-size="6.4" text-anchor="middle" fill="#333" stroke="#333" stroke-width="0.1" >18</text>
<line x1="131.95" y1="306.20" x2="131.95" y2="308.40" stroke="#151515" stroke-width="0.9"/>
<text x="131.95" y="318.40" font-size="6.4" text-anchor="middle" fill="#333" stroke="#333" stroke-width="0.1" >24</text>
<line x1="147.50" y1="306.20" x2="147.50" y2="308.40" stroke="#151515" stroke-width="0.9"/>
<text x="147.50" y="318.40" font-size="6.4" text-anchor="middle" fill="#333" stroke="#333" stroke-width="0.1" >36</text>
<line x1="163.05" y1="306.20" x2="163.05" y2="308.40" stroke="#151515" stroke-width="0.9"/>
<text x="163.05" y="318.40" font-size="6.4" text-anchor="middle" fill="#333" stroke="#333" stroke-width="0.1" >48</text>
<line x1="54.20" y1="296.00" x2="54.20" y2="299.00" stroke="#c85a74" stroke-width="0.9"/>
<line x1="52.50" y1="296.00" x2="55.90" y2="296.00" stroke="#c85a74" stroke-width="0.9"/>
<line x1="52.50" y1="299.00" x2="55.90" y2="299.00" stroke="#c85a74" stroke-width="0.9"/>
<line x1="69.75" y1="295.10" x2="69.75" y2="302.90" stroke="#c85a74" stroke-width="0.9"/>
<line x1="68.05" y1="295.10" x2="71.45" y2="295.10" stroke="#c85a74" stroke-width="0.9"/>
<line x1="68.05" y1="302.90" x2="71.45" y2="302.90" stroke="#c85a74" stroke-width="0.9"/>
<line x1="85.30" y1="295.10" x2="85.30" y2="302.90" stroke="#c85a74" stroke-width="0.9"/>
<line x1="83.60" y1="295.10" x2="87.00" y2="295.10" stroke="#c85a74" stroke-width="0.9"/>
<line x1="83.60" y1="302.90" x2="87.00" y2="302.90" stroke="#c85a74" stroke-width="0.9"/>
<line x1="100.85" y1="277.40" x2="100.85" y2="301.40" stroke="#c85a74" stroke-width="0.9"/>
<line x1="99.15" y1="277.40" x2="102.55" y2="277.40" stroke="#c85a74" stroke-width="0.9"/>
<line x1="99.15" y1="301.40" x2="102.55" y2="301.40" stroke="#c85a74" stroke-width="0.9"/>
<line x1="116.40" y1="280.10" x2="116.40" y2="295.70" stroke="#c85a74" stroke-width="0.9"/>
<line x1="114.70" y1="280.10" x2="118.10" y2="280.10" stroke="#c85a74" stroke-width="0.9"/>
<line x1="114.70" y1="295.70" x2="118.10" y2="295.70" stroke="#c85a74" stroke-width="0.9"/>
<line x1="131.95" y1="277.40" x2="131.95" y2="288.20" stroke="#c85a74" stroke-width="0.9"/>
<line x1="130.25" y1="277.40" x2="133.65" y2="277.40" stroke="#c85a74" stroke-width="0.9"/>
<line x1="130.25" y1="288.20" x2="133.65" y2="288.20" stroke="#c85a74" stroke-width="0.9"/>
<line x1="147.50" y1="251.00" x2="147.50" y2="254.60" stroke="#c85a74" stroke-width="0.9"/>
<line x1="145.80" y1="251.00" x2="149.20" y2="251.00" stroke="#c85a74" stroke-width="0.9"/>
<line x1="145.80" y1="254.60" x2="149.20" y2="254.60" stroke="#c85a74" stroke-width="0.9"/>
<line x1="163.05" y1="247.10" x2="163.05" y2="254.30" stroke="#c85a74" stroke-width="0.9"/>
<line x1="161.35" y1="247.10" x2="164.75" y2="247.10" stroke="#c85a74" stroke-width="0.9"/>
<line x1="161.35" y1="254.30" x2="164.75" y2="254.30" stroke="#c85a74" stroke-width="0.9"/>
<polyline points="54.20,297.50 69.75,299.00 85.30,299.00 100.85,289.40 116.40,287.90 131.95,282.80 147.50,252.80 163.05,250.70" fill="none" stroke="#b8173d" stroke-width="1.1"/>
<circle cx="54.20" cy="297.50" r="1.75" fill="#5e081c" stroke="#b8173d" stroke-width="0.6"/>
<circle cx="69.75" cy="299.00" r="1.75" fill="#5e081c" stroke="#b8173d" stroke-width="0.6"/>
<circle cx="85.30" cy="299.00" r="1.75" fill="#5e081c" stroke="#b8173d" stroke-width="0.6"/>
<circle cx="100.85" cy="289.40" r="1.75" fill="#5e081c" stroke="#b8173d" stroke-width="0.6"/>
<circle cx="116.40" cy="287.90" r="1.75" fill="#5e081c" stroke="#b8173d" stroke-width="0.6"/>
<circle cx="131.95" cy="282.80" r="1.75" fill="#5e081c" stroke="#b8173d" stroke-width="0.6"/>
<circle cx="147.50" cy="252.80" r="1.75" fill="#5e081c" stroke="#b8173d" stroke-width="0.6"/>
<circle cx="163.05" cy="250.70" r="1.75" fill="#5e081c" stroke="#b8173d" stroke-width="0.6"/>
<line x1="54.20" y1="302.30" x2="54.20" y2="304.70" stroke="#5f80a8" stroke-width="0.9"/>
<line x1="52.50" y1="302.30" x2="55.90" y2="302.30" stroke="#5f80a8" stroke-width="0.9"/>
<line x1="52.50" y1="304.70" x2="55.90" y2="304.70" stroke="#5f80a8" stroke-width="0.9"/>
<line x1="69.75" y1="304.10" x2="69.75" y2="305.90" stroke="#5f80a8" stroke-width="0.9"/>
<line x1="68.05" y1="304.10" x2="71.45" y2="304.10" stroke="#5f80a8" stroke-width="0.9"/>
<line x1="68.05" y1="305.90" x2="71.45" y2="305.90" stroke="#5f80a8" stroke-width="0.9"/>
<line x1="85.30" y1="304.10" x2="85.30" y2="305.90" stroke="#5f80a8" stroke-width="0.9"/>
<line x1="83.60" y1="304.10" x2="87.00" y2="304.10" stroke="#5f80a8" stroke-width="0.9"/>
<line x1="83.60" y1="305.90" x2="87.00" y2="305.90" stroke="#5f80a8" stroke-width="0.9"/>
<line x1="100.85" y1="302.00" x2="100.85" y2="304.40" stroke="#5f80a8" stroke-width="0.9"/>
<line x1="99.15" y1="302.00" x2="102.55" y2="302.00" stroke="#5f80a8" stroke-width="0.9"/>
<line x1="99.15" y1="304.40" x2="102.55" y2="304.40" stroke="#5f80a8" stroke-width="0.9"/>
<line x1="116.40" y1="300.80" x2="116.40" y2="303.80" stroke="#5f80a8" stroke-width="0.9"/>
<line x1="114.70" y1="300.80" x2="118.10" y2="300.80" stroke="#5f80a8" stroke-width="0.9"/>
<line x1="114.70" y1="303.80" x2="118.10" y2="303.80" stroke="#5f80a8" stroke-width="0.9"/>
<line x1="131.95" y1="298.70" x2="131.95" y2="303.50" stroke="#5f80a8" stroke-width="0.9"/>
<line x1="130.25" y1="298.70" x2="133.65" y2="298.70" stroke="#5f80a8" stroke-width="0.9"/>
<line x1="130.25" y1="303.50" x2="133.65" y2="303.50" stroke="#5f80a8" stroke-width="0.9"/>
<line x1="147.50" y1="287.90" x2="147.50" y2="301.10" stroke="#5f80a8" stroke-width="0.9"/>
<line x1="145.80" y1="287.90" x2="149.20" y2="287.90" stroke="#5f80a8" stroke-width="0.9"/>
<line x1="145.80" y1="301.10" x2="149.20" y2="301.10" stroke="#5f80a8" stroke-width="0.9"/>
<line x1="163.05" y1="287.90" x2="163.05" y2="301.10" stroke="#5f80a8" stroke-width="0.9"/>
<line x1="161.35" y1="287.90" x2="164.75" y2="287.90" stroke="#5f80a8" stroke-width="0.9"/>
<line x1="161.35" y1="301.10" x2="164.75" y2="301.10" stroke="#5f80a8" stroke-width="0.9"/>
<polyline points="54.20,303.50 69.75,305.00 85.30,305.00 100.85,303.20 116.40,302.30 131.95,301.10 147.50,294.50 163.05,294.50" fill="none" stroke="#35649a" stroke-width="1.1"/>
<rect x="52.50" y="301.80" width="3.4" height="3.4" fill="#1d3f66" stroke="#35649a" stroke-width="0.4"/>
<rect x="68.05" y="303.30" width="3.4" height="3.4" fill="#1d3f66" stroke="#35649a" stroke-width="0.4"/>
<rect x="83.60" y="303.30" width="3.4" height="3.4" fill="#1d3f66" stroke="#35649a" stroke-width="0.4"/>
<rect x="99.15" y="301.50" width="3.4" height="3.4" fill="#1d3f66" stroke="#35649a" stroke-width="0.4"/>
<rect x="114.70" y="300.60" width="3.4" height="3.4" fill="#1d3f66" stroke="#35649a" stroke-width="0.4"/>
<rect x="130.25" y="299.40" width="3.4" height="3.4" fill="#1d3f66" stroke="#35649a" stroke-width="0.4"/>
<rect x="145.80" y="292.80" width="3.4" height="3.4" fill="#1d3f66" stroke="#35649a" stroke-width="0.4"/>
<rect x="161.35" y="292.80" width="3.4" height="3.4" fill="#1d3f66" stroke="#35649a" stroke-width="0.4"/>
<line x1="54.20" y1="303.50" x2="54.20" y2="305.30" stroke="#7cc47c" stroke-width="0.9"/>
<line x1="52.50" y1="303.50" x2="55.90" y2="303.50" stroke="#7cc47c" stroke-width="0.9"/>
<line x1="52.50" y1="305.30" x2="55.90" y2="305.30" stroke="#7cc47c" stroke-width="0.9"/>
<line x1="69.75" y1="304.70" x2="69.75" y2="305.90" stroke="#7cc47c" stroke-width="0.9"/>
<line x1="68.05" y1="304.70" x2="71.45" y2="304.70" stroke="#7cc47c" stroke-width="0.9"/>
<line x1="68.05" y1="305.90" x2="71.45" y2="305.90" stroke="#7cc47c" stroke-width="0.9"/>
<line x1="85.30" y1="304.70" x2="85.30" y2="305.90" stroke="#7cc47c" stroke-width="0.9"/>
<line x1="83.60" y1="304.70" x2="87.00" y2="304.70" stroke="#7cc47c" stroke-width="0.9"/>
<line x1="83.60" y1="305.90" x2="87.00" y2="305.90" stroke="#7cc47c" stroke-width="0.9"/>
<line x1="100.85" y1="304.10" x2="100.85" y2="305.90" stroke="#7cc47c" stroke-width="0.9"/>
<line x1="99.15" y1="304.10" x2="102.55" y2="304.10" stroke="#7cc47c" stroke-width="0.9"/>
<line x1="99.15" y1="305.90" x2="102.55" y2="305.90" stroke="#7cc47c" stroke-width="0.9"/>
<line x1="116.40" y1="303.80" x2="116.40" y2="305.60" stroke="#7cc47c" stroke-width="0.9"/>
<line x1="114.70" y1="303.80" x2="118.10" y2="303.80" stroke="#7cc47c" stroke-width="0.9"/>
<line x1="114.70" y1="305.60" x2="118.10" y2="305.60" stroke="#7cc47c" stroke-width="0.9"/>
<line x1="131.95" y1="303.20" x2="131.95" y2="305.60" stroke="#7cc47c" stroke-width="0.9"/>
<line x1="130.25" y1="303.20" x2="133.65" y2="303.20" stroke="#7cc47c" stroke-width="0.9"/>
<line x1="130.25" y1="305.60" x2="133.65" y2="305.60" stroke="#7cc47c" stroke-width="0.9"/>
<line x1="147.50" y1="299.90" x2="147.50" y2="304.70" stroke="#7cc47c" stroke-width="0.9"/>
<line x1="145.80" y1="299.90" x2="149.20" y2="299.90" stroke="#7cc47c" stroke-width="0.9"/>
<line x1="145.80" y1="304.70" x2="149.20" y2="304.70" stroke="#7cc47c" stroke-width="0.9"/>
<line x1="163.05" y1="299.45" x2="163.05" y2="304.25" stroke="#7cc47c" stroke-width="0.9"/>
<line x1="161.35" y1="299.45" x2="164.75" y2="299.45" stroke="#7cc47c" stroke-width="0.9"/>
<line x1="161.35" y1="304.25" x2="164.75" y2="304.25" stroke="#7cc47c" stroke-width="0.9"/>
<polyline points="54.20,304.40 69.75,305.30 85.30,305.30 100.85,305.00 116.40,304.70 131.95,304.40 147.50,302.30 163.05,301.85" fill="none" stroke="#6cbf6c" stroke-width="1.8"/>
<path d="M52.10,306.00 L54.20,302.30 L56.30,306.00 Z" fill="#1d5528" stroke="#2d7a3a" stroke-width="0.5"/>
<path d="M67.65,306.90 L69.75,303.20 L71.85,306.90 Z" fill="#1d5528" stroke="#2d7a3a" stroke-width="0.5"/>
<path d="M83.20,306.90 L85.30,303.20 L87.40,306.90 Z" fill="#1d5528" stroke="#2d7a3a" stroke-width="0.5"/>
<path d="M98.75,306.60 L100.85,302.90 L102.95,306.60 Z" fill="#1d5528" stroke="#2d7a3a" stroke-width="0.5"/>
<path d="M114.30,306.30 L116.40,302.60 L118.50,306.30 Z" fill="#1d5528" stroke="#2d7a3a" stroke-width="0.5"/>
<path d="M129.85,306.00 L131.95,302.30 L134.05,306.00 Z" fill="#1d5528" stroke="#2d7a3a" stroke-width="0.5"/>
<path d="M145.40,303.90 L147.50,300.20 L149.60,303.90 Z" fill="#1d5528" stroke="#2d7a3a" stroke-width="0.5"/>
<path d="M160.95,303.45 L163.05,299.75 L165.15,303.45 Z" fill="#1d5528" stroke="#2d7a3a" stroke-width="0.5"/>
<line x1="130.60" y1="235.40" x2="163.00" y2="235.40" stroke="#2a2a2a" stroke-width="1.2"/>
<line x1="130.60" y1="233.90" x2="130.60" y2="236.90" stroke="#2a2a2a" stroke-width="1.2"/>
<line x1="163.00" y1="233.90" x2="163.00" y2="236.90" stroke="#2a2a2a" stroke-width="1.2"/>
<circle cx="146.60" cy="232.00" r="0.8" fill="#2a2a2a"/>
<line x1="51.80" y1="283.00" x2="58.40" y2="283.00" stroke="#2a2a2a" stroke-width="1.2"/>
<line x1="51.80" y1="281.60" x2="51.80" y2="284.40" stroke="#2a2a2a" stroke-width="1.2"/>
<line x1="58.40" y1="281.60" x2="58.40" y2="284.40" stroke="#2a2a2a" stroke-width="1.2"/>
<circle cx="55.00" cy="278.60" r="0.8" fill="#2a2a2a"/>
<text x="276.00" y="207.50" font-size="9.2" text-anchor="middle" fill="#222" textLength="70.0" lengthAdjust="spacingAndGlyphs" stroke="#222" stroke-width="0.08" >CD4 Helper T-cells</text>
<line x1="214.90" y1="215.30" x2="214.90" y2="306.80" stroke="#151515" stroke-width="1.15"/>
<line x1="211.90" y1="306.20" x2="214.90" y2="306.20" stroke="#151515" stroke-width="1.1"/>
<text x="209.10" y="308.45" font-size="6.4" text-anchor="end" fill="#222" stroke="#222" stroke-width="0.15" >0</text>
<line x1="211.90" y1="276.90" x2="214.90" y2="276.90" stroke="#151515" stroke-width="1.1"/>
<text x="209.10" y="279.15" font-size="6.4" text-anchor="end" fill="#222" stroke="#222" stroke-width="0.15" >10</text>
<line x1="211.90" y1="247.60" x2="214.90" y2="247.60" stroke="#151515" stroke-width="1.1"/>
<text x="209.10" y="249.85" font-size="6.4" text-anchor="end" fill="#222" stroke="#222" stroke-width="0.15" >20</text>
<line x1="211.90" y1="218.30" x2="214.90" y2="218.30" stroke="#151515" stroke-width="1.1"/>
<text x="209.10" y="220.55" font-size="6.4" text-anchor="end" fill="#222" stroke="#222" stroke-width="0.15" >30</text>
<text transform="translate(196.30,260.95) rotate(-90)" x="0" y="0" font-size="7.9" text-anchor="middle" fill="#2a2a2a" stroke="#2a2a2a" stroke-width="0.3" textLength="74" lengthAdjust="spacingAndGlyphs">Donor Chimerism (%CD45.1)</text>
<line x1="214.30" y1="306.20" x2="337.00" y2="306.20" stroke="#151515" stroke-width="1.3"/>
<line x1="224.60" y1="306.20" x2="224.60" y2="308.40" stroke="#151515" stroke-width="0.9"/>
<text x="224.60" y="318.40" font-size="6.4" text-anchor="middle" fill="#333" stroke="#333" stroke-width="0.1" >4</text>
<line x1="239.31" y1="306.20" x2="239.31" y2="308.40" stroke="#151515" stroke-width="0.9"/>
<text x="239.31" y="318.40" font-size="6.4" text-anchor="middle" fill="#333" stroke="#333" stroke-width="0.1" >7</text>
<line x1="254.02" y1="306.20" x2="254.02" y2="308.40" stroke="#151515" stroke-width="0.9"/>
<text x="254.02" y="318.40" font-size="6.4" text-anchor="middle" fill="#333" stroke="#333" stroke-width="0.1" >10</text>
<line x1="268.73" y1="306.20" x2="268.73" y2="308.40" stroke="#151515" stroke-width="0.9"/>
<text x="268.73" y="318.40" font-size="6.4" text-anchor="middle" fill="#333" stroke="#333" stroke-width="0.1" >14</text>
<line x1="283.44" y1="306.20" x2="283.44" y2="308.40" stroke="#151515" stroke-width="0.9"/>
<text x="283.44" y="318.40" font-size="6.4" text-anchor="middle" fill="#333" stroke="#333" stroke-width="0.1" >18</text>
<line x1="298.15" y1="306.20" x2="298.15" y2="308.40" stroke="#151515" stroke-width="0.9"/>
<text x="298.15" y="318.40" font-size="6.4" text-anchor="middle" fill="#333" stroke="#333" stroke-width="0.1" >24</text>
<line x1="312.86" y1="306.20" x2="312.86" y2="308.40" stroke="#151515" stroke-width="0.9"/>
<text x="312.86" y="318.40" font-size="6.4" text-anchor="middle" fill="#333" stroke="#333" stroke-width="0.1" >36</text>
<line x1="327.57" y1="306.20" x2="327.57" y2="308.40" stroke="#151515" stroke-width="0.9"/>
<text x="327.57" y="318.40" font-size="6.4" text-anchor="middle" fill="#333" stroke="#333" stroke-width="0.1" >48</text>
<line x1="224.60" y1="305.03" x2="224.60" y2="306.20" stroke="#c85a74" stroke-width="0.9"/>
<line x1="222.90" y1="305.03" x2="226.30" y2="305.03" stroke="#c85a74" stroke-width="0.9"/>
<line x1="222.90" y1="306.20" x2="226.30" y2="306.20" stroke="#c85a74" stroke-width="0.9"/>
<line x1="239.31" y1="287.74" x2="239.31" y2="290.67" stroke="#c85a74" stroke-width="0.9"/>
<line x1="237.61" y1="287.74" x2="241.01" y2="287.74" stroke="#c85a74" stroke-width="0.9"/>
<line x1="237.61" y1="290.67" x2="241.01" y2="290.67" stroke="#c85a74" stroke-width="0.9"/>
<line x1="254.02" y1="277.78" x2="254.02" y2="288.33" stroke="#c85a74" stroke-width="0.9"/>
<line x1="252.32" y1="277.78" x2="255.72" y2="277.78" stroke="#c85a74" stroke-width="0.9"/>
<line x1="252.32" y1="288.33" x2="255.72" y2="288.33" stroke="#c85a74" stroke-width="0.9"/>
<line x1="268.73" y1="279.54" x2="268.73" y2="286.57" stroke="#c85a74" stroke-width="0.9"/>
<line x1="267.03" y1="279.54" x2="270.43" y2="279.54" stroke="#c85a74" stroke-width="0.9"/>
<line x1="267.03" y1="286.57" x2="270.43" y2="286.57" stroke="#c85a74" stroke-width="0.9"/>
<line x1="283.44" y1="271.92" x2="283.44" y2="278.95" stroke="#c85a74" stroke-width="0.9"/>
<line x1="281.74" y1="271.92" x2="285.14" y2="271.92" stroke="#c85a74" stroke-width="0.9"/>
<line x1="281.74" y1="278.95" x2="285.14" y2="278.95" stroke="#c85a74" stroke-width="0.9"/>
<line x1="298.15" y1="256.68" x2="298.15" y2="266.64" stroke="#c85a74" stroke-width="0.9"/>
<line x1="296.45" y1="256.68" x2="299.85" y2="256.68" stroke="#c85a74" stroke-width="0.9"/>
<line x1="296.45" y1="266.64" x2="299.85" y2="266.64" stroke="#c85a74" stroke-width="0.9"/>
<line x1="312.86" y1="231.19" x2="312.86" y2="234.71" stroke="#c85a74" stroke-width="0.9"/>
<line x1="311.16" y1="231.19" x2="314.56" y2="231.19" stroke="#c85a74" stroke-width="0.9"/>
<line x1="311.16" y1="234.71" x2="314.56" y2="234.71" stroke="#c85a74" stroke-width="0.9"/>
<line x1="327.57" y1="226.21" x2="327.57" y2="230.90" stroke="#c85a74" stroke-width="0.9"/>
<line x1="325.87" y1="226.21" x2="329.27" y2="226.21" stroke="#c85a74" stroke-width="0.9"/>
<line x1="325.87" y1="230.90" x2="329.27" y2="230.90" stroke="#c85a74" stroke-width="0.9"/>
<polyline points="224.60,305.61 239.31,289.21 254.02,283.05 268.73,283.05 283.44,275.44 298.15,261.66 312.86,232.95 327.57,228.55" fill="none" stroke="#b8173d" stroke-width="1.1"/>
<circle cx="224.60" cy="305.61" r="1.75" fill="#5e081c" stroke="#b8173d" stroke-width="0.6"/>
<circle cx="239.31" cy="289.21" r="1.75" fill="#5e081c" stroke="#b8173d" stroke-width="0.6"/>
<circle cx="254.02" cy="283.05" r="1.75" fill="#5e081c" stroke="#b8173d" stroke-width="0.6"/>
<circle cx="268.73" cy="283.05" r="1.75" fill="#5e081c" stroke="#b8173d" stroke-width="0.6"/>
<circle cx="283.44" cy="275.44" r="1.75" fill="#5e081c" stroke="#b8173d" stroke-width="0.6"/>
<circle cx="298.15" cy="261.66" r="1.75" fill="#5e081c" stroke="#b8173d" stroke-width="0.6"/>
<circle cx="312.86" cy="232.95" r="1.75" fill="#5e081c" stroke="#b8173d" stroke-width="0.6"/>
<circle cx="327.57" cy="228.55" r="1.75" fill="#5e081c" stroke="#b8173d" stroke-width="0.6"/>
<line x1="224.60" y1="305.03" x2="224.60" y2="306.20" stroke="#5f80a8" stroke-width="0.9"/>
<line x1="222.90" y1="305.03" x2="226.30" y2="305.03" stroke="#5f80a8" stroke-width="0.9"/>
<line x1="222.90" y1="306.20" x2="226.30" y2="306.20" stroke="#5f80a8" stroke-width="0.9"/>
<line x1="239.31" y1="303.56" x2="239.31" y2="305.32" stroke="#5f80a8" stroke-width="0.9"/>
<line x1="237.61" y1="303.56" x2="241.01" y2="303.56" stroke="#5f80a8" stroke-width="0.9"/>
<line x1="237.61" y1="305.32" x2="241.01" y2="305.32" stroke="#5f80a8" stroke-width="0.9"/>
<line x1="254.02" y1="302.10" x2="254.02" y2="304.44" stroke="#5f80a8" stroke-width="0.9"/>
<line x1="252.32" y1="302.10" x2="255.72" y2="302.10" stroke="#5f80a8" stroke-width="0.9"/>
<line x1="252.32" y1="304.44" x2="255.72" y2="304.44" stroke="#5f80a8" stroke-width="0.9"/>
<line x1="268.73" y1="302.10" x2="268.73" y2="304.44" stroke="#5f80a8" stroke-width="0.9"/>
<line x1="267.03" y1="302.10" x2="270.43" y2="302.10" stroke="#5f80a8" stroke-width="0.9"/>
<line x1="267.03" y1="304.44" x2="270.43" y2="304.44" stroke="#5f80a8" stroke-width="0.9"/>
<line x1="283.44" y1="299.17" x2="283.44" y2="302.68" stroke="#5f80a8" stroke-width="0.9"/>
<line x1="281.74" y1="299.17" x2="285.14" y2="299.17" stroke="#5f80a8" stroke-width="0.9"/>
<line x1="281.74" y1="302.68" x2="285.14" y2="302.68" stroke="#5f80a8" stroke-width="0.9"/>
<line x1="298.15" y1="296.82" x2="298.15" y2="301.51" stroke="#5f80a8" stroke-width="0.9"/>
<line x1="296.45" y1="296.82" x2="299.85" y2="296.82" stroke="#5f80a8" stroke-width="0.9"/>
<line x1="296.45" y1="301.51" x2="299.85" y2="301.51" stroke="#5f80a8" stroke-width="0.9"/>
<line x1="312.86" y1="292.43" x2="312.86" y2="301.80" stroke="#5f80a8" stroke-width="0.9"/>
<line x1="311.16" y1="292.43" x2="314.56" y2="292.43" stroke="#5f80a8" stroke-width="0.9"/>
<line x1="311.16" y1="301.80" x2="314.56" y2="301.80" stroke="#5f80a8" stroke-width="0.9"/>
<line x1="327.57" y1="292.72" x2="327.57" y2="302.10" stroke="#5f80a8" stroke-width="0.9"/>
<line x1="325.87" y1="292.72" x2="329.27" y2="292.72" stroke="#5f80a8" stroke-width="0.9"/>
<line x1="325.87" y1="302.10" x2="329.27" y2="302.10" stroke="#5f80a8" stroke-width="0.9"/>
<polyline points="224.60,305.61 239.31,304.44 254.02,303.27 268.73,303.27 283.44,300.93 298.15,299.17 312.86,297.12 327.57,297.41" fill="none" stroke="#35649a" stroke-width="1.1"/>
<rect x="222.90" y="303.91" width="3.4" height="3.4" fill="#1d3f66" stroke="#35649a" stroke-width="0.4"/>
<rect x="237.61" y="302.74" width="3.4" height="3.4" fill="#1d3f66" stroke="#35649a" stroke-width="0.4"/>
<rect x="252.32" y="301.57" width="3.4" height="3.4" fill="#1d3f66" stroke="#35649a" stroke-width="0.4"/>
<rect x="267.03" y="301.57" width="3.4" height="3.4" fill="#1d3f66" stroke="#35649a" stroke-width="0.4"/>
<rect x="281.74" y="299.23" width="3.4" height="3.4" fill="#1d3f66" stroke="#35649a" stroke-width="0.4"/>
<rect x="296.45" y="297.47" width="3.4" height="3.4" fill="#1d3f66" stroke="#35649a" stroke-width="0.4"/>
<rect x="311.16" y="295.42" width="3.4" height="3.4" fill="#1d3f66" stroke="#35649a" stroke-width="0.4"/>
<rect x="325.87" y="295.71" width="3.4" height="3.4" fill="#1d3f66" stroke="#35649a" stroke-width="0.4"/>
<line x1="224.60" y1="305.03" x2="224.60" y2="306.20" stroke="#7cc47c" stroke-width="0.9"/>
<line x1="222.90" y1="305.03" x2="226.30" y2="305.03" stroke="#7cc47c" stroke-width="0.9"/>
<line x1="222.90" y1="306.20" x2="226.30" y2="306.20" stroke="#7cc47c" stroke-width="0.9"/>
<line x1="239.31" y1="304.15" x2="239.31" y2="305.91" stroke="#7cc47c" stroke-width="0.9"/>
<line x1="237.61" y1="304.15" x2="241.01" y2="304.15" stroke="#7cc47c" stroke-width="0.9"/>
<line x1="237.61" y1="305.91" x2="241.01" y2="305.91" stroke="#7cc47c" stroke-width="0.9"/>
<line x1="254.02" y1="304.44" x2="254.02" y2="306.20" stroke="#7cc47c" stroke-width="0.9"/>
<line x1="252.32" y1="304.44" x2="255.72" y2="304.44" stroke="#7cc47c" stroke-width="0.9"/>
<line x1="252.32" y1="306.20" x2="255.72" y2="306.20" stroke="#7cc47c" stroke-width="0.9"/>
<line x1="268.73" y1="304.44" x2="268.73" y2="306.20" stroke="#7cc47c" stroke-width="0.9"/>
<line x1="267.03" y1="304.44" x2="270.43" y2="304.44" stroke="#7cc47c" stroke-width="0.9"/>
<line x1="267.03" y1="306.20" x2="270.43" y2="306.20" stroke="#7cc47c" stroke-width="0.9"/>
<line x1="283.44" y1="303.86" x2="283.44" y2="305.61" stroke="#7cc47c" stroke-width="0.9"/>
<line x1="281.74" y1="303.86" x2="285.14" y2="303.86" stroke="#7cc47c" stroke-width="0.9"/>
<line x1="281.74" y1="305.61" x2="285.14" y2="305.61" stroke="#7cc47c" stroke-width="0.9"/>
<line x1="298.15" y1="303.56" x2="298.15" y2="305.32" stroke="#7cc47c" stroke-width="0.9"/>
<line x1="296.45" y1="303.56" x2="299.85" y2="303.56" stroke="#7cc47c" stroke-width="0.9"/>
<line x1="296.45" y1="305.32" x2="299.85" y2="305.32" stroke="#7cc47c" stroke-width="0.9"/>
<line x1="312.86" y1="303.27" x2="312.86" y2="305.03" stroke="#7cc47c" stroke-width="0.9"/>
<line x1="311.16" y1="303.27" x2="314.56" y2="303.27" stroke="#7cc47c" stroke-width="0.9"/>
<line x1="311.16" y1="305.03" x2="314.56" y2="305.03" stroke="#7cc47c" stroke-width="0.9"/>
<line x1="327.57" y1="302.68" x2="327.57" y2="305.03" stroke="#7cc47c" stroke-width="0.9"/>
<line x1="325.87" y1="302.68" x2="329.27" y2="302.68" stroke="#7cc47c" stroke-width="0.9"/>
<line x1="325.87" y1="305.03" x2="329.27" y2="305.03" stroke="#7cc47c" stroke-width="0.9"/>
<polyline points="224.60,305.61 239.31,305.03 254.02,305.32 268.73,305.32 283.44,304.74 298.15,304.44 312.86,304.15 327.57,303.86" fill="none" stroke="#6cbf6c" stroke-width="1.7"/>
<path d="M222.50,307.21 L224.60,303.51 L226.70,307.21 Z" fill="#1d5528" stroke="#2d7a3a" stroke-width="0.5"/>
<path d="M237.21,306.63 L239.31,302.93 L241.41,306.63 Z" fill="#1d5528" stroke="#2d7a3a" stroke-width="0.5"/>
<path d="M251.92,306.92 L254.02,303.22 L256.12,306.92 Z" fill="#1d5528" stroke="#2d7a3a" stroke-width="0.5"/>
<path d="M266.63,306.92 L268.73,303.22 L270.83,306.92 Z" fill="#1d5528" stroke="#2d7a3a" stroke-width="0.5"/>
<path d="M281.34,306.34 L283.44,302.63 L285.54,306.34 Z" fill="#1d5528" stroke="#2d7a3a" stroke-width="0.5"/>
<path d="M296.05,306.04 L298.15,302.34 L300.25,306.04 Z" fill="#1d5528" stroke="#2d7a3a" stroke-width="0.5"/>
<path d="M310.76,305.75 L312.86,302.05 L314.96,305.75 Z" fill="#1d5528" stroke="#2d7a3a" stroke-width="0.5"/>
<path d="M325.47,305.46 L327.57,301.76 L329.67,305.46 Z" fill="#1d5528" stroke="#2d7a3a" stroke-width="0.5"/>
<line x1="255.60" y1="222.50" x2="328.80" y2="222.50" stroke="#2a2a2a" stroke-width="1.2"/>
<line x1="255.60" y1="221.00" x2="255.60" y2="224.00" stroke="#2a2a2a" stroke-width="1.2"/>
<line x1="328.80" y1="221.00" x2="328.80" y2="224.00" stroke="#2a2a2a" stroke-width="1.2"/>
<circle cx="291.20" cy="219.00" r="0.82" fill="#2a2a2a"/>
<circle cx="293.80" cy="219.00" r="0.82" fill="#2a2a2a"/>
<line x1="234.20" y1="275.20" x2="242.40" y2="275.20" stroke="#2a2a2a" stroke-width="1.2"/>
<line x1="234.20" y1="273.90" x2="234.20" y2="276.50" stroke="#2a2a2a" stroke-width="1.2"/>
<line x1="242.40" y1="273.90" x2="242.40" y2="276.50" stroke="#2a2a2a" stroke-width="1.2"/>
<circle cx="235.80" cy="271.60" r="0.82" fill="#2a2a2a"/>
<circle cx="238.40" cy="271.60" r="0.82" fill="#2a2a2a"/>
<circle cx="241.00" cy="271.60" r="0.82" fill="#2a2a2a"/>
<text x="442.20" y="207.50" font-size="9.2" text-anchor="middle" fill="#222" textLength="79.6" lengthAdjust="spacingAndGlyphs" stroke="#222" stroke-width="0.08" >CD8 Cytotoxic T-cells</text>
<line x1="378.60" y1="214.00" x2="378.60" y2="306.90" stroke="#151515" stroke-width="1.15"/>
<line x1="375.60" y1="306.30" x2="378.60" y2="306.30" stroke="#151515" stroke-width="1.1"/>
<text x="372.80" y="308.55" font-size="6.4" text-anchor="end" fill="#222" stroke="#222" stroke-width="0.15" >0</text>
<line x1="375.60" y1="276.53" x2="378.60" y2="276.53" stroke="#151515" stroke-width="1.1"/>
<text x="372.80" y="278.78" font-size="6.4" text-anchor="end" fill="#222" stroke="#222" stroke-width="0.15" >10</text>
<line x1="375.60" y1="246.76" x2="378.60" y2="246.76" stroke="#151515" stroke-width="1.1"/>
<text x="372.80" y="249.01" font-size="6.4" text-anchor="end" fill="#222" stroke="#222" stroke-width="0.15" >20</text>
<line x1="375.60" y1="216.99" x2="378.60" y2="216.99" stroke="#151515" stroke-width="1.1"/>
<text x="372.80" y="219.24" font-size="6.4" text-anchor="end" fill="#222" stroke="#222" stroke-width="0.15" >30</text>
<text transform="translate(360.00,260.75) rotate(-90)" x="0" y="0" font-size="7.9" text-anchor="middle" fill="#2a2a2a" stroke="#2a2a2a" stroke-width="0.3" textLength="74" lengthAdjust="spacingAndGlyphs">Donor Chimerism (%CD45.1)</text>
<line x1="378.00" y1="306.30" x2="505.00" y2="306.30" stroke="#151515" stroke-width="1.3"/>
<line x1="388.60" y1="306.30" x2="388.60" y2="308.50" stroke="#151515" stroke-width="0.9"/>
<text x="388.60" y="318.40" font-size="6.4" text-anchor="middle" fill="#333" stroke="#333" stroke-width="0.1" >4</text>
<line x1="403.86" y1="306.30" x2="403.86" y2="308.50" stroke="#151515" stroke-width="0.9"/>
<text x="403.86" y="318.40" font-size="6.4" text-anchor="middle" fill="#333" stroke="#333" stroke-width="0.1" >7</text>
<line x1="419.12" y1="306.30" x2="419.12" y2="308.50" stroke="#151515" stroke-width="0.9"/>
<text x="419.12" y="318.40" font-size="6.4" text-anchor="middle" fill="#333" stroke="#333" stroke-width="0.1" >10</text>
<line x1="434.38" y1="306.30" x2="434.38" y2="308.50" stroke="#151515" stroke-width="0.9"/>
<text x="434.38" y="318.40" font-size="6.4" text-anchor="middle" fill="#333" stroke="#333" stroke-width="0.1" >14</text>
<line x1="449.64" y1="306.30" x2="449.64" y2="308.50" stroke="#151515" stroke-width="0.9"/>
<text x="449.64" y="318.40" font-size="6.4" text-anchor="middle" fill="#333" stroke="#333" stroke-width="0.1" >18</text>
<line x1="464.90" y1="306.30" x2="464.90" y2="308.50" stroke="#151515" stroke-width="0.9"/>
<text x="464.90" y="318.40" font-size="6.4" text-anchor="middle" fill="#333" stroke="#333" stroke-width="0.1" >24</text>
<line x1="480.16" y1="306.30" x2="480.16" y2="308.50" stroke="#151515" stroke-width="0.9"/>
<text x="480.16" y="318.40" font-size="6.4" text-anchor="middle" fill="#333" stroke="#333" stroke-width="0.1" >36</text>
<line x1="495.42" y1="306.30" x2="495.42" y2="308.50" stroke="#151515" stroke-width="0.9"/>
<text x="495.42" y="318.40" font-size="6.4" text-anchor="middle" fill="#333" stroke="#333" stroke-width="0.1" >48</text>
<line x1="388.60" y1="305.41" x2="388.60" y2="306.60" stroke="#c85a74" stroke-width="0.9"/>
<line x1="386.90" y1="305.41" x2="390.30" y2="305.41" stroke="#c85a74" stroke-width="0.9"/>
<line x1="386.90" y1="306.60" x2="390.30" y2="306.60" stroke="#c85a74" stroke-width="0.9"/>
<line x1="403.86" y1="292.16" x2="403.86" y2="293.95" stroke="#c85a74" stroke-width="0.9"/>
<line x1="402.16" y1="292.16" x2="405.56" y2="292.16" stroke="#c85a74" stroke-width="0.9"/>
<line x1="402.16" y1="293.95" x2="405.56" y2="293.95" stroke="#c85a74" stroke-width="0.9"/>
<line x1="419.12" y1="285.01" x2="419.12" y2="290.97" stroke="#c85a74" stroke-width="0.9"/>
<line x1="417.42" y1="285.01" x2="420.82" y2="285.01" stroke="#c85a74" stroke-width="0.9"/>
<line x1="417.42" y1="290.97" x2="420.82" y2="290.97" stroke="#c85a74" stroke-width="0.9"/>
<line x1="434.38" y1="282.04" x2="434.38" y2="287.99" stroke="#c85a74" stroke-width="0.9"/>
<line x1="432.68" y1="282.04" x2="436.08" y2="282.04" stroke="#c85a74" stroke-width="0.9"/>
<line x1="432.68" y1="287.99" x2="436.08" y2="287.99" stroke="#c85a74" stroke-width="0.9"/>
<line x1="449.64" y1="281.44" x2="449.64" y2="283.82" stroke="#c85a74" stroke-width="0.9"/>
<line x1="447.94" y1="281.44" x2="451.34" y2="281.44" stroke="#c85a74" stroke-width="0.9"/>
<line x1="447.94" y1="283.82" x2="451.34" y2="283.82" stroke="#c85a74" stroke-width="0.9"/>
<line x1="464.90" y1="267.15" x2="464.90" y2="278.76" stroke="#c85a74" stroke-width="0.9"/>
<line x1="463.20" y1="267.15" x2="466.60" y2="267.15" stroke="#c85a74" stroke-width="0.9"/>
<line x1="463.20" y1="278.76" x2="466.60" y2="278.76" stroke="#c85a74" stroke-width="0.9"/>
<line x1="480.16" y1="240.95" x2="480.16" y2="264.47" stroke="#c85a74" stroke-width="0.9"/>
<line x1="478.46" y1="240.95" x2="481.86" y2="240.95" stroke="#c85a74" stroke-width="0.9"/>
<line x1="478.46" y1="264.47" x2="481.86" y2="264.47" stroke="#c85a74" stroke-width="0.9"/>
<line x1="495.42" y1="227.80" x2="495.42" y2="253.22" stroke="#c85a74" stroke-width="0.9"/>
<line x1="493.72" y1="227.80" x2="497.12" y2="227.80" stroke="#c85a74" stroke-width="0.9"/>
<line x1="493.72" y1="253.22" x2="497.12" y2="253.22" stroke="#c85a74" stroke-width="0.9"/>
<polyline points="388.60,306.00 403.86,293.05 419.12,287.99 434.38,285.01 449.64,282.63 464.90,272.96 480.16,252.71 495.42,240.51" fill="none" stroke="#b8173d" stroke-width="1.1"/>
<circle cx="388.60" cy="306.00" r="1.75" fill="#5e081c" stroke="#b8173d" stroke-width="0.6"/>
<circle cx="403.86" cy="293.05" r="1.75" fill="#5e081c" stroke="#b8173d" stroke-width="0.6"/>
<circle cx="419.12" cy="287.99" r="1.75" fill="#5e081c" stroke="#b8173d" stroke-width="0.6"/>
<circle cx="434.38" cy="285.01" r="1.75" fill="#5e081c" stroke="#b8173d" stroke-width="0.6"/>
<circle cx="449.64" cy="282.63" r="1.75" fill="#5e081c" stroke="#b8173d" stroke-width="0.6"/>
<circle cx="464.90" cy="272.96" r="1.75" fill="#5e081c" stroke="#b8173d" stroke-width="0.6"/>
<circle cx="480.16" cy="252.71" r="1.75" fill="#5e081c" stroke="#b8173d" stroke-width="0.6"/>
<circle cx="495.42" cy="240.51" r="1.75" fill="#5e081c" stroke="#b8173d" stroke-width="0.6"/>
<line x1="388.60" y1="305.11" x2="388.60" y2="306.30" stroke="#5f80a8" stroke-width="0.9"/>
<line x1="386.90" y1="305.11" x2="390.30" y2="305.11" stroke="#5f80a8" stroke-width="0.9"/>
<line x1="386.90" y1="306.30" x2="390.30" y2="306.30" stroke="#5f80a8" stroke-width="0.9"/>
<line x1="403.86" y1="304.22" x2="403.86" y2="306.00" stroke="#5f80a8" stroke-width="0.9"/>
<line x1="402.16" y1="304.22" x2="405.56" y2="304.22" stroke="#5f80a8" stroke-width="0.9"/>
<line x1="402.16" y1="306.00" x2="405.56" y2="306.00" stroke="#5f80a8" stroke-width="0.9"/>
<line x1="419.12" y1="303.62" x2="419.12" y2="305.41" stroke="#5f80a8" stroke-width="0.9"/>
<line x1="417.42" y1="303.62" x2="420.82" y2="303.62" stroke="#5f80a8" stroke-width="0.9"/>
<line x1="417.42" y1="305.41" x2="420.82" y2="305.41" stroke="#5f80a8" stroke-width="0.9"/>
<line x1="434.38" y1="302.73" x2="434.38" y2="305.11" stroke="#5f80a8" stroke-width="0.9"/>
<line x1="432.68" y1="302.73" x2="436.08" y2="302.73" stroke="#5f80a8" stroke-width="0.9"/>
<line x1="432.68" y1="305.11" x2="436.08" y2="305.11" stroke="#5f80a8" stroke-width="0.9"/>
<line x1="449.64" y1="301.09" x2="449.64" y2="304.07" stroke="#5f80a8" stroke-width="0.9"/>
<line x1="447.94" y1="301.09" x2="451.34" y2="301.09" stroke="#5f80a8" stroke-width="0.9"/>
<line x1="447.94" y1="304.07" x2="451.34" y2="304.07" stroke="#5f80a8" stroke-width="0.9"/>
<line x1="464.90" y1="299.60" x2="464.90" y2="303.17" stroke="#5f80a8" stroke-width="0.9"/>
<line x1="463.20" y1="299.60" x2="466.60" y2="299.60" stroke="#5f80a8" stroke-width="0.9"/>
<line x1="463.20" y1="303.17" x2="466.60" y2="303.17" stroke="#5f80a8" stroke-width="0.9"/>
<line x1="480.16" y1="297.67" x2="480.16" y2="303.03" stroke="#5f80a8" stroke-width="0.9"/>
<line x1="478.46" y1="297.67" x2="481.86" y2="297.67" stroke="#5f80a8" stroke-width="0.9"/>
<line x1="478.46" y1="303.03" x2="481.86" y2="303.03" stroke="#5f80a8" stroke-width="0.9"/>
<line x1="495.42" y1="297.96" x2="495.42" y2="303.32" stroke="#5f80a8" stroke-width="0.9"/>
<line x1="493.72" y1="297.96" x2="497.12" y2="297.96" stroke="#5f80a8" stroke-width="0.9"/>
<line x1="493.72" y1="303.32" x2="497.12" y2="303.32" stroke="#5f80a8" stroke-width="0.9"/>
<polyline points="388.60,305.70 403.86,305.11 419.12,304.51 434.38,303.92 449.64,302.58 464.90,301.39 480.16,300.35 495.42,300.64" fill="none" stroke="#35649a" stroke-width="1.1"/>
<rect x="386.90" y="304.00" width="3.4" height="3.4" fill="#1d3f66" stroke="#35649a" stroke-width="0.4"/>
<rect x="402.16" y="303.41" width="3.4" height="3.4" fill="#1d3f66" stroke="#35649a" stroke-width="0.4"/>
<rect x="417.42" y="302.81" width="3.4" height="3.4" fill="#1d3f66" stroke="#35649a" stroke-width="0.4"/>
<rect x="432.68" y="302.22" width="3.4" height="3.4" fill="#1d3f66" stroke="#35649a" stroke-width="0.4"/>
<rect x="447.94" y="300.88" width="3.4" height="3.4" fill="#1d3f66" stroke="#35649a" stroke-width="0.4"/>
<rect x="463.20" y="299.69" width="3.4" height="3.4" fill="#1d3f66" stroke="#35649a" stroke-width="0.4"/>
<rect x="478.46" y="298.65" width="3.4" height="3.4" fill="#1d3f66" stroke="#35649a" stroke-width="0.4"/>
<rect x="493.72" y="298.94" width="3.4" height="3.4" fill="#1d3f66" stroke="#35649a" stroke-width="0.4"/>
<line x1="388.60" y1="305.11" x2="388.60" y2="306.30" stroke="#7cc47c" stroke-width="0.9"/>
<line x1="386.90" y1="305.11" x2="390.30" y2="305.11" stroke="#7cc47c" stroke-width="0.9"/>
<line x1="386.90" y1="306.30" x2="390.30" y2="306.30" stroke="#7cc47c" stroke-width="0.9"/>
<line x1="403.86" y1="304.51" x2="403.86" y2="306.30" stroke="#7cc47c" stroke-width="0.9"/>
<line x1="402.16" y1="304.51" x2="405.56" y2="304.51" stroke="#7cc47c" stroke-width="0.9"/>
<line x1="402.16" y1="306.30" x2="405.56" y2="306.30" stroke="#7cc47c" stroke-width="0.9"/>
<line x1="419.12" y1="304.51" x2="419.12" y2="306.30" stroke="#7cc47c" stroke-width="0.9"/>
<line x1="417.42" y1="304.51" x2="420.82" y2="304.51" stroke="#7cc47c" stroke-width="0.9"/>
<line x1="417.42" y1="306.30" x2="420.82" y2="306.30" stroke="#7cc47c" stroke-width="0.9"/>
<line x1="434.38" y1="304.22" x2="434.38" y2="306.00" stroke="#7cc47c" stroke-width="0.9"/>
<line x1="432.68" y1="304.22" x2="436.08" y2="304.22" stroke="#7cc47c" stroke-width="0.9"/>
<line x1="432.68" y1="306.00" x2="436.08" y2="306.00" stroke="#7cc47c" stroke-width="0.9"/>
<line x1="449.64" y1="303.92" x2="449.64" y2="305.70" stroke="#7cc47c" stroke-width="0.9"/>
<line x1="447.94" y1="303.92" x2="451.34" y2="303.92" stroke="#7cc47c" stroke-width="0.9"/>
<line x1="447.94" y1="305.70" x2="451.34" y2="305.70" stroke="#7cc47c" stroke-width="0.9"/>
<line x1="464.90" y1="303.62" x2="464.90" y2="305.41" stroke="#7cc47c" stroke-width="0.9"/>
<line x1="463.20" y1="303.62" x2="466.60" y2="303.62" stroke="#7cc47c" stroke-width="0.9"/>
<line x1="463.20" y1="305.41" x2="466.60" y2="305.41" stroke="#7cc47c" stroke-width="0.9"/>
<line x1="480.16" y1="303.62" x2="480.16" y2="305.41" stroke="#7cc47c" stroke-width="0.9"/>
<line x1="478.46" y1="303.62" x2="481.86" y2="303.62" stroke="#7cc47c" stroke-width="0.9"/>
<line x1="478.46" y1="305.41" x2="481.86" y2="305.41" stroke="#7cc47c" stroke-width="0.9"/>
<line x1="495.42" y1="303.62" x2="495.42" y2="305.41" stroke="#7cc47c" stroke-width="0.9"/>
<line x1="493.72" y1="303.62" x2="497.12" y2="303.62" stroke="#7cc47c" stroke-width="0.9"/>
<line x1="493.72" y1="305.41" x2="497.12" y2="305.41" stroke="#7cc47c" stroke-width="0.9"/>
<polyline points="388.60,305.70 403.86,305.41 419.12,305.41 434.38,305.11 449.64,304.81 464.90,304.51 480.16,304.51 495.42,304.51" fill="none" stroke="#6cbf6c" stroke-width="1.7"/>
<path d="M386.50,307.30 L388.60,303.60 L390.70,307.30 Z" fill="#1d5528" stroke="#2d7a3a" stroke-width="0.5"/>
<path d="M401.76,307.01 L403.86,303.31 L405.96,307.01 Z" fill="#1d5528" stroke="#2d7a3a" stroke-width="0.5"/>
<path d="M417.02,307.01 L419.12,303.31 L421.22,307.01 Z" fill="#1d5528" stroke="#2d7a3a" stroke-width="0.5"/>
<path d="M432.28,306.71 L434.38,303.01 L436.48,306.71 Z" fill="#1d5528" stroke="#2d7a3a" stroke-width="0.5"/>
<path d="M447.54,306.41 L449.64,302.71 L451.74,306.41 Z" fill="#1d5528" stroke="#2d7a3a" stroke-width="0.5"/>
<path d="M462.80,306.11 L464.90,302.41 L467.00,306.11 Z" fill="#1d5528" stroke="#2d7a3a" stroke-width="0.5"/>
<path d="M478.06,306.11 L480.16,302.41 L482.26,306.11 Z" fill="#1d5528" stroke="#2d7a3a" stroke-width="0.5"/>
<path d="M493.32,306.11 L495.42,302.41 L497.52,306.11 Z" fill="#1d5528" stroke="#2d7a3a" stroke-width="0.5"/>
<line x1="458.00" y1="222.60" x2="497.00" y2="222.60" stroke="#2a2a2a" stroke-width="1.2"/>
<line x1="458.00" y1="221.10" x2="458.00" y2="224.10" stroke="#2a2a2a" stroke-width="1.2"/>
<line x1="497.00" y1="221.10" x2="497.00" y2="224.10" stroke="#2a2a2a" stroke-width="1.2"/>
<circle cx="475.70" cy="217.60" r="0.82" fill="#2a2a2a"/>
<circle cx="478.30" cy="217.60" r="0.82" fill="#2a2a2a"/>
<line x1="431.30" y1="256.20" x2="451.50" y2="256.20" stroke="#2a2a2a" stroke-width="1.2"/>
<line x1="431.30" y1="254.70" x2="431.30" y2="257.70" stroke="#2a2a2a" stroke-width="1.2"/>
<line x1="451.50" y1="254.70" x2="451.50" y2="257.70" stroke="#2a2a2a" stroke-width="1.2"/>
<circle cx="438.90" cy="251.10" r="0.82" fill="#2a2a2a"/>
<circle cx="441.50" cy="251.10" r="0.82" fill="#2a2a2a"/>
<circle cx="444.10" cy="251.10" r="0.82" fill="#2a2a2a"/>
<line x1="413.50" y1="264.20" x2="424.60" y2="264.20" stroke="#2a2a2a" stroke-width="1.2"/>
<line x1="413.50" y1="262.70" x2="413.50" y2="265.70" stroke="#2a2a2a" stroke-width="1.2"/>
<line x1="424.60" y1="262.70" x2="424.60" y2="265.70" stroke="#2a2a2a" stroke-width="1.2"/>
<circle cx="417.90" cy="258.70" r="0.82" fill="#2a2a2a"/>
<circle cx="420.50" cy="258.70" r="0.82" fill="#2a2a2a"/>
<line x1="399.40" y1="278.20" x2="406.50" y2="278.20" stroke="#2a2a2a" stroke-width="1.2"/>
<line x1="399.40" y1="276.90" x2="399.40" y2="279.50" stroke="#2a2a2a" stroke-width="1.2"/>
<line x1="406.50" y1="276.90" x2="406.50" y2="279.50" stroke="#2a2a2a" stroke-width="1.2"/>
<circle cx="400.20" cy="273.40" r="0.82" fill="#2a2a2a"/>
<circle cx="402.80" cy="273.40" r="0.82" fill="#2a2a2a"/>
<circle cx="405.40" cy="273.40" r="0.82" fill="#2a2a2a"/>
<rect x="0" y="0" width="520" height="1" fill="#5e5e5e"/>
<rect x="0" y="0" width="1" height="325" fill="#6e6e6e"/>
<rect x="519" y="0" width="1" height="325" fill="#333"/>
<rect x="0" y="324" width="520" height="1" fill="#3a3a3a"/>
</svg>
</body></html>
